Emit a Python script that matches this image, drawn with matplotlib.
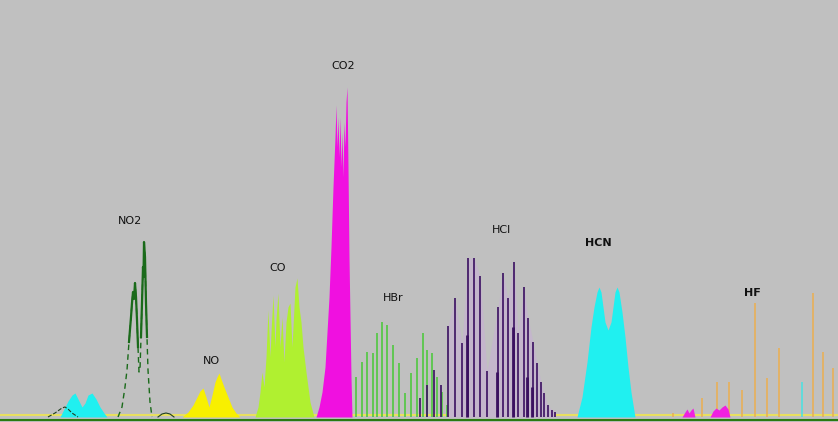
import numpy as np
import matplotlib
matplotlib.use('Agg')
import matplotlib.pyplot as plt

# baseline sits at pixel row ~417 of a 422 px tall picture
BASE = 5

# small cyan band at the left
cyan_x = [60, 64, 68, 72, 75, 78, 82, 85, 88, 92, 96, 100, 104, 107]
cyan_h = [0, 8, 16, 22, 24, 18, 10, 14, 22, 24, 18, 10, 4, 0]

# small dark humps
hump_x = [48, 55, 62, 65, 68, 72, 78]
hump_h = [0, 4, 9, 10, 8, 4, 0]
hump2_x = [158, 162, 166, 170, 174]
hump2_h = [0, 3, 4, 3, 0]

# NO2 envelope
no2_x = [118, 122, 125, 127, 129, 131, 132, 133, 134, 135, 136, 137, 138, 139, 140, 141,
         142, 143, 143.5, 144, 145, 146, 147, 148, 150, 152]
no2_h = [0, 10, 30, 47, 75, 100, 114, 125, 118, 134, 120, 97, 70, 45, 47, 80,
         114, 150, 140, 175, 160, 114, 80, 47, 15, 0]

# NO band
no_x = [182, 188, 193, 197, 200, 203, 206, 209, 212, 215, 217, 219, 221, 224, 228, 232, 236, 240]
no_h = [0, 5, 12, 20, 26, 29, 20, 10, 22, 35, 40, 44, 38, 30, 20, 10, 4, 0]

# CO band
co_x = [255, 258, 260, 262, 264, 266, 268, 270, 271, 273, 275, 276, 278, 280, 282, 284,
        286, 288, 290, 292, 294, 295, 297, 299, 301, 303, 306, 310, 314]
co_h = [0, 10, 25, 45, 30, 60, 107, 60, 85, 122, 70, 98, 124, 70, 100, 55,
        95, 110, 114, 70, 110, 130, 139, 110, 95, 70, 45, 15, 0]

# CO2 band
co2_x = [316, 319, 322, 325, 327, 329, 331, 333, 335, 336, 337, 338, 339, 340, 341, 342,
         343, 344, 345, 346, 347, 348, 349, 350, 351, 352]
co2_h = [0, 10, 25, 50, 85, 120, 170, 230, 280, 312, 270, 300, 260, 300, 250, 285,
         240, 295, 270, 315, 330, 250, 160, 100, 40, 0]

# HBr lines
hbr_x = [338, 344, 350, 356, 362, 367, 373, 377, 382, 387, 393, 399, 405, 411, 417, 423,
         427, 432, 437, 442, 447]
hbr_h = [10, 22, 27, 40, 55, 65, 64, 84, 95, 92, 72, 54, 24, 44, 59, 84,
         67, 64, 40, 25, 12]

# HCl lines (main and isotope)
hcl_x = [420, 427, 434, 441, 448, 455, 462, 468, 474, 480, 487, 498, 503, 508, 514, 518,
         524, 528, 533, 537, 541, 544, 548, 552, 555]
hcl_h = [19, 32, 47, 32, 91, 119, 74, 159, 159, 141, 46, 110, 144, 119, 155, 84,
         130, 99, 75, 54, 35, 24, 12, 7, 5]
hcl2_x = [467, 497, 513, 527, 532]
hcl2_h = [82, 45, 90, 40, 30]

# HCN band
hcn_x = [577, 582, 587, 591, 594, 597, 599, 601, 603, 605, 608, 611, 613, 615, 617, 619,
         622, 625, 628, 631, 635]
hcn_h = [0, 20, 55, 90, 110, 125, 130, 125, 110, 95, 87, 95, 110, 125, 130, 125,
         105, 80, 50, 25, 0]

# HF lines
hf_x = [673, 702, 717, 729, 742, 755, 767, 779, 813, 823, 833]
hf_h = [4, 19, 35, 35, 27, 114, 39, 69, 124, 65, 49]
hf_cyan_x = [802]
hf_cyan_h = [35]

# small magenta bits near HF
mag_x = [682, 685, 687, 689, 691, 693, 695, 710, 713, 716, 719, 722, 725, 728, 730]
mag_h = [0, 5, 8, 4, 7, 9, 0, 0, 6, 9, 7, 10, 12, 8, 0]

labels = ['NO2', 'NO', 'CO', 'CO2', 'HBr', 'HCl', 'HCN', 'HF']
label_x = [130, 211, 278, 343, 393, 501, 598, 752]
label_y = [201, 61, 154, 356, 124, 192, 179, 129]
label_bold = [False, False, False, False, False, False, True, True]


def band(ax, xs, hs, color, zorder=2):
    xs = np.array(xs, dtype=float)
    hs = np.array(hs, dtype=float) + BASE
    ax.fill_between(xs, BASE, hs, color=color, lw=0, zorder=zorder)


fig = plt.figure(figsize=(8.38, 4.22), dpi=100)
ax = fig.add_axes([0, 0, 1, 1])
ax.set_facecolor('#c0c0c0')
ax.set_xlim(0, 838)
ax.set_ylim(0, 422)
ax.axis('off')
fig.patch.set_facecolor('#c0c0c0')

# baselines
ax.axhline(BASE + 2, color='#e8e060', lw=1.5, zorder=1)
ax.axhline(2, color='#2a7a10', lw=1.5, zorder=1)

band(ax, cyan_x, cyan_h, '#20f0f0')
ax.plot(hump_x, np.array(hump_h) + BASE, color='#204020', lw=0.8, ls='--', zorder=3)
ax.plot(hump2_x, np.array(hump2_h) + BASE, color='#204020', lw=0.8, zorder=3)

# NO2: dashed envelope with solid upper parts
no2_hb = np.array(no2_h, dtype=float) + BASE
ax.plot(no2_x, no2_hb, color='#1a6a1a', lw=1, ls=(0, (4, 3)), zorder=3)
solid = np.ma.masked_where(np.array(no2_h) < 60, no2_hb)
ax.plot(no2_x, solid, color='#1a6a1a', lw=1.6, zorder=3)

band(ax, no_x, no_h, '#f8f000')
band(ax, co_x, co_h, '#b0f030')
band(ax, co2_x, co2_h, '#f010e0', zorder=3)

# HCl halo
ax.fill_between(hcl_x[4:], BASE, np.array(hcl_h[4:]) + BASE, color='#c4b6cc', lw=0, zorder=1.5)

ax.vlines(hbr_x, BASE, np.array(hbr_h) + BASE, color='#50c840', lw=1.2, zorder=2)
ax.vlines(hcl_x, BASE, np.array(hcl_h) + BASE, color='#3a1060', lw=1.2, zorder=3)
ax.vlines(hcl2_x, BASE, np.array(hcl2_h) + BASE, color='#3a1060', lw=2.0, zorder=3)

band(ax, hcn_x, hcn_h, '#20f0f0')

ax.vlines(hf_x, BASE, np.array(hf_h) + BASE, color='#e8b058', lw=1.2, zorder=2)
ax.vlines(hf_cyan_x, BASE, np.array(hf_cyan_h) + BASE, color='#50e0e0', lw=1.2, zorder=2)
band(ax, mag_x, mag_h, '#f020e0')

for txt, lx, ly, b in zip(labels, label_x, label_y, label_bold):
    ax.text(lx, ly, txt, fontsize=8, ha='center', va='center',
            fontweight='bold' if b else 'normal', color='#111111', zorder=5)

fig.savefig('out.png', dpi=100, facecolor=fig.get_facecolor())
